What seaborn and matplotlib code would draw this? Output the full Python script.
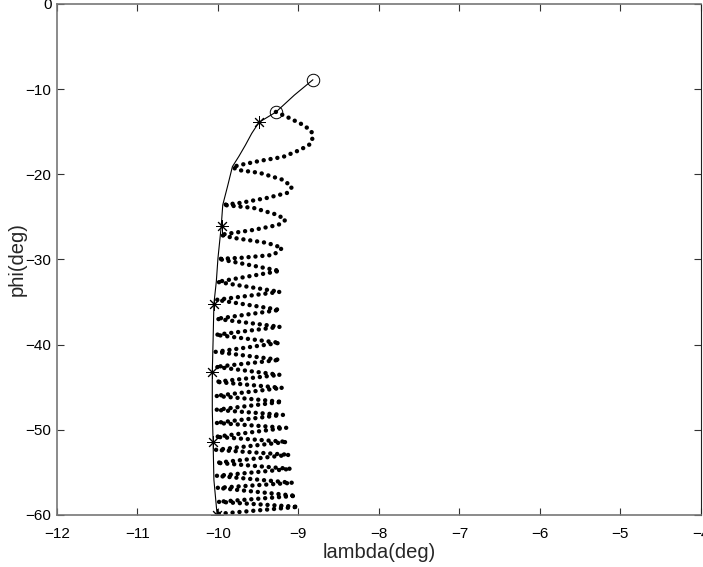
import matplotlib
matplotlib.use("Agg")
import matplotlib.pyplot as plt
import seaborn as sns
import pandas as pd

# Reference trajectory (solid line)
curve_lambda = [-8.82, -9.05, -9.28, -9.49, -9.58, -9.66, -9.74, -9.82, -9.88, -9.94,
                -9.96, -10.00, -10.02, -10.05, -10.06, -10.07, -10.07, -10.06, -10.05, -10.01]
curve_phi = [-8.9, -10.7, -12.7, -13.9, -15.2, -16.6, -17.9, -19.1, -21.4, -23.6,
             -26.2, -29.9, -32.6, -35.2, -39.5, -43.2, -47.7, -51.5, -55.9, -60.0]

# Circle markers
circle_lambda = [-8.82, -9.28]
circle_phi = [-8.9, -12.7]

# Star markers
star_lambda = [-9.49, -9.95, -10.05, -10.07, -10.06, -10.01]
star_phi = [-13.9, -26.1, -35.2, -43.2, -51.5, -60.0]

# Oscillating (dotted) trajectory, vertices
spiral_lambda = [-9.28, -9.14, -8.94, -8.84, -8.82, -8.85, -8.98, -9.19, -9.48, -9.72,
                 -9.82, -9.76, -9.48, -9.19, -9.08, -9.14, -9.39, -9.72,
                 -9.94, -9.56, -9.26, -9.16, -9.25, -9.56, -9.89,
                 -9.97, -9.81, -9.39, -9.20, -9.31, -9.72,
                 -10.00, -9.23, -10.01, -9.23, -10.02, -9.23, -10.02, -9.23,
                 -10.03, -9.23, -10.03, -9.23, -10.03, -9.23, -10.03, -9.20,
                 -10.03, -9.20, -10.03, -9.19, -10.03, -9.15, -10.03, -9.14,
                 -10.03, -9.11, -10.02, -9.09, -10.02, -9.07, -10.01, -9.03,
                 -10.00, -9.00, -9.99]
spiral_phi = [-12.68, -13.27, -14.21, -14.91, -15.62, -16.44, -17.14, -17.96, -18.43, -18.90,
              -19.14, -19.49, -19.84, -20.66, -21.49, -22.19, -22.78, -23.36,
              -23.60, -23.95, -24.77, -25.36, -25.95, -26.54, -27.00,
              -27.12, -27.47, -28.06, -28.65, -29.47, -29.82,
              -29.94, -31.35, -32.64, -33.81, -34.75, -35.93, -36.98, -37.92,
              -38.86, -39.80, -40.86, -41.80, -42.62, -43.56, -44.38, -45.09,
              -46.03, -46.73, -47.67, -48.26, -49.20, -49.78, -50.84, -51.43,
              -52.37, -52.95, -53.89, -54.60, -55.42, -56.24, -56.83, -57.77,
              -58.47, -59.06, -59.88]

x_ticks = [-12, -11, -10, -9, -8, -7, -6, -5, -4]
y_ticks = [-60, -50, -40, -30, -20, -10, 0]

sns.set_style("white")
plt.rcParams['font.family'] = ['Liberation Sans', 'DejaVu Sans']
plt.rcParams['axes.unicode_minus'] = True

fig = plt.figure(figsize=(7.03, 5.67), dpi=100)
ax = fig.add_axes([0.081, 0.092, 0.916, 0.901])

df_curve = pd.DataFrame({"lam": curve_lambda, "phi": curve_phi})
df_spiral = pd.DataFrame({"lam": spiral_lambda, "phi": spiral_phi})
df_circ = pd.DataFrame({"lam": circle_lambda, "phi": circle_phi})
df_star = pd.DataFrame({"lam": star_lambda, "phi": star_phi})

sns.lineplot(data=df_curve, x="lam", y="phi", sort=False, estimator=None,
             color="black", linewidth=0.8, ax=ax)
sns.lineplot(data=df_spiral, x="lam", y="phi", sort=False, estimator=None,
             color="black", linewidth=3.2, ax=ax)
line = ax.get_lines()[-1]
line.set_dashes((0.01, 1.55))
line.set_dash_capstyle("round")

ax.plot(df_circ["lam"], df_circ["phi"], linestyle="none", marker="o",
        markersize=9, markerfacecolor="none", markeredgecolor="black", markeredgewidth=0.7)
ax.plot(df_star["lam"], df_star["phi"], linestyle="none", marker=(8, 2, 0),
        markersize=9, color="black", markeredgewidth=0.7)

ax.set_xlim(-12, -4)
ax.set_ylim(-60, 0)
ax.set_xticks(x_ticks)
ax.set_yticks(y_ticks)
ax.set_xticklabels([f"\u2212{abs(v)}" if v < 0 else str(v) for v in x_ticks])
ax.set_yticklabels([f"\u2212{abs(v)}" if v < 0 else str(v) for v in y_ticks])
ax.tick_params(direction="in", length=5, width=0.8, labelsize=11, colors="#333333",
               top=True, right=True, bottom=True, left=True, pad=4)
ax.tick_params(axis="x", pad=9)
ax.tick_params(labelcolor="black")
for side in ["top", "left", "bottom"]:
    ax.spines[side].set_color("#777777")
    ax.spines[side].set_linewidth(1.2)
ax.spines["right"].set_color("#222222")
ax.spines["right"].set_linewidth(0.8)
ax.set_xlabel("lambda(deg)", fontsize=14.5, labelpad=1)
ax.set_ylabel("phi(deg)", fontsize=14.5, labelpad=-1)

fig.savefig("out.png", dpi=100)
